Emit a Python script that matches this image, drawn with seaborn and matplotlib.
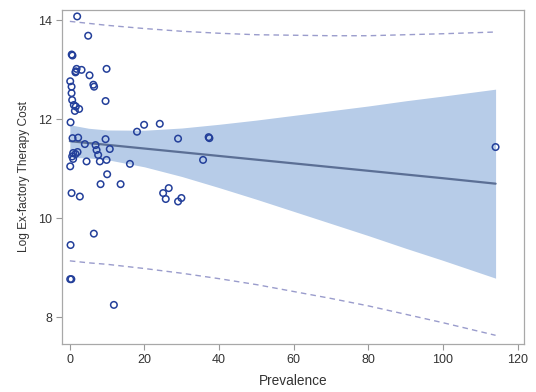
# Prevalence vs log ex-factory therapy cost, with fitted line,
# 95% confidence band and 95% prediction limits.

import pandas as pd
import matplotlib
matplotlib.use("Agg")
import matplotlib.pyplot as plt
import seaborn as sns

prevalence = [
    1.96, 4.91, 0.5, 0.7, 1.8, 3.14, 1.6, 1.5, 9.84, 5.28,
    0.1, 0.46, 6.3, 6.5, 0.46, 0.62, 1.07, 1.6, 2.49, 1.34,
    9.57, 0.19, 0.72, 2.23, 4.02, 6.89, 9.57, 10.7, 7.16, 0.88,
    2.06, 1.53, 7.59, 0.62, 0.88, 8.04, 4.48, 9.84, 16.1, 0.1,
    10.0, 8.23, 13.6, 0.46, 2.68, 6.43, 0.19, 0.1, 0.4, 11.8,
    18.0, 19.9, 24.1, 29.0, 37.2, 37.4, 35.7, 26.5, 25.0, 25.7,
    29.0, 29.9, 114.1,
]
log_cost = [
    14.08, 13.69, 13.31, 13.29, 13.02, 13.00, 12.97, 12.95, 13.02, 12.89,
    12.77, 12.66, 12.70, 12.66, 12.53, 12.39, 12.29, 12.26, 12.21, 12.17,
    12.37, 11.94, 11.62, 11.63, 11.50, 11.48, 11.60, 11.40, 11.38, 11.32,
    11.34, 11.30, 11.28, 11.25, 11.20, 11.15, 11.15, 11.18, 11.10, 11.05,
    10.89, 10.69, 10.69, 10.51, 10.44, 9.69, 9.46, 8.77, 8.77, 8.25,
    11.75, 11.89, 11.91, 11.61, 11.64, 11.62, 11.18, 10.61, 10.51, 10.39,
    10.34, 10.41, 11.44,
]

# Fitted line and interval limits
fit_x = [0, 5, 10, 20, 30, 40, 50, 60, 70, 80, 90, 100, 114.1]
fit_y = [11.56, 11.52, 11.485, 11.41, 11.335, 11.26, 11.185, 11.11,
         11.035, 10.96, 10.885, 10.81, 10.70]
conf_lower = [11.23, 11.22, 11.185, 11.04, 10.845, 10.62, 10.385, 10.14,
              9.895, 9.65, 9.395, 9.15, 8.79]
conf_upper = [11.89, 11.82, 11.785, 11.78, 11.825, 11.90, 11.985, 12.08,
              12.175, 12.27, 12.375, 12.47, 12.61]
pred_lower = [9.14, 9.10, 9.07, 8.985, 8.89, 8.78, 8.66, 8.52, 8.38,
              8.23, 8.06, 7.89, 7.635]
pred_upper = [13.98, 13.94, 13.90, 13.835, 13.78, 13.74, 13.71, 13.70,
              13.69, 13.69, 13.71, 13.73, 13.765]

x_ticks = [0, 20, 40, 60, 80, 100, 120]
y_ticks = [8, 10, 12, 14]

df = pd.DataFrame({"Prevalence": prevalence, "LogCost": log_cost})
fit_df = pd.DataFrame({
    "Prevalence": fit_x,
    "fit": fit_y,
    "lcl": conf_lower,
    "ucl": conf_upper,
    "lpl": pred_lower,
    "upl": pred_upper,
})

sns.set_style("white")
plt.rcParams["font.family"] = ["Liberation Sans", "DejaVu Sans"]

fig = plt.figure(figsize=(5.36, 3.92), dpi=100)
ax = fig.add_axes([0.115, 0.1225, 0.8625, 0.852])

# confidence band
ax.fill_between(fit_df["Prevalence"], fit_df["lcl"], fit_df["ucl"],
                color="#b7cce8", linewidth=0, zorder=1)
# fit line
sns.lineplot(data=fit_df, x="Prevalence", y="fit", ax=ax,
             color="#5b6f95", linewidth=1.6, zorder=2)
# prediction limits
for col in ["lpl", "upl"]:
    sns.lineplot(data=fit_df, x="Prevalence", y=col, ax=ax,
                 color="#9a9ccc", linewidth=1.0, linestyle=(0, (4, 3)), zorder=2)
# observations
sns.scatterplot(data=df, x="Prevalence", y="LogCost", ax=ax,
                facecolor="none", edgecolor="#233f9a", linewidth=1.1,
                s=22, zorder=3)

ax.set_xlim(-2.2, 121.7)
ax.set_ylim(7.46, 14.21)
ax.set_xticks(x_ticks)
ax.set_yticks(y_ticks)
ax.tick_params(axis="both", which="major", direction="out", length=4,
               width=0.8, color="#999999", labelsize=9, labelcolor="#333333",
               bottom=True, left=True, pad=3)
for sp in ax.spines.values():
    sp.set_color("#a8a8a8")
    sp.set_linewidth(0.9)

ax.set_xlabel("Prevalence", fontsize=9.8, color="#333333", labelpad=6)
ax.set_ylabel("Log Ex-factory Therapy Cost", fontsize=8.6, color="#333333", labelpad=6)

fig.savefig("out.png", dpi=100)
